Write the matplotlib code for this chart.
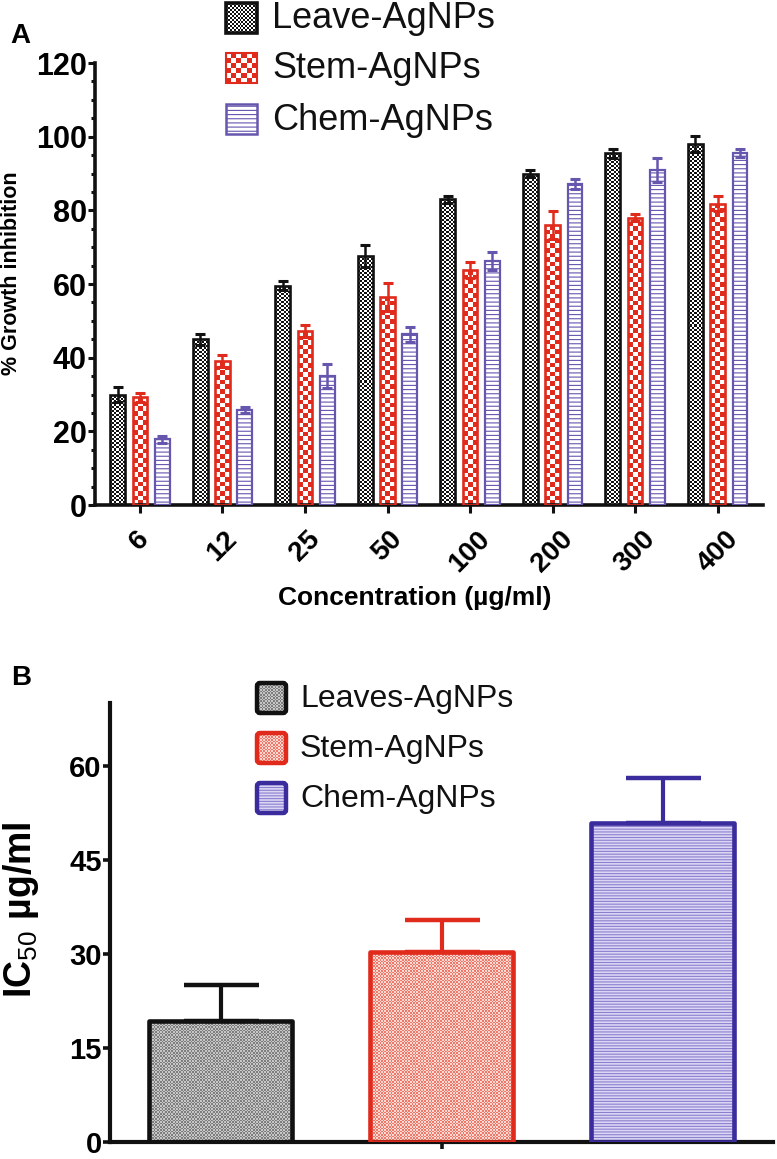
import numpy as np
import matplotlib
matplotlib.use("Agg")
import matplotlib.pyplot as plt
from matplotlib.patches import Rectangle, FancyBboxPatch
from matplotlib.colors import to_rgb

plt.rcParams['font.family'] = ['Liberation Sans', 'DejaVu Sans']
plt.rcParams['mathtext.fontset'] = 'custom'
plt.rcParams['mathtext.rm'] = 'Liberation Sans'
plt.rcParams['mathtext.bf'] = 'Liberation Sans:bold'
plt.rcParams['hatch.linewidth'] = 0.8

# ---------------- data ----------------
concentrations = ['6', '12', '25', '50', '100', '200', '300', '400']
series_a = ['Leave-AgNPs', 'Stem-AgNPs', 'Chem-AgNPs']
leave_vals = [30.0, 45.0, 59.5, 67.5, 83.0, 90.0, 95.5, 98.0]
leave_err = [2.0, 1.5, 1.2, 3.0, 1.0, 1.0, 1.2, 2.2]
stem_vals = [29.2, 39.0, 47.2, 56.5, 63.8, 76.0, 78.0, 81.8]
stem_err = [1.2, 1.6, 1.6, 3.7, 2.2, 3.8, 1.0, 2.0]
chem_vals = [17.8, 25.8, 35.0, 46.3, 66.3, 87.2, 91.0, 95.5]
chem_err = [0.9, 0.8, 3.2, 2.0, 2.5, 1.4, 3.2, 1.1]

series_b = ['Leaves-AgNPs', 'Stem-AgNPs', 'Chem-AgNPs']
ic50_vals = [19.3, 30.3, 50.9]
ic50_err = [5.7, 5.1, 7.2]

# ---------------- styles ----------------
BLACK = '#111111'
RED = '#e02a1c'
PURPLE_A = '#6656ae'
INDIGO_B = '#3a2c9c'

W, H = 777, 1159
fig = plt.figure(figsize=(W / 100, H / 100), dpi=100)


def checker(ax, x0, x1, y0, y1, c1, c2, cell_px, clip, z):
    p0 = ax.transData.transform((x0, y0))
    p1 = ax.transData.transform((x1, y1))
    wpx = abs(p1[0] - p0[0])
    hpx = abs(p1[1] - p0[1])
    nc = max(1, int(round(wpx / cell_px)))
    nr = max(1, int(round(hpx / cell_px)))
    ii, jj = np.indices((nr, nc))
    g = ((ii + jj) % 2).astype(bool)
    img = np.where(g[..., None], np.array(to_rgb(c1)), np.array(to_rgb(c2)))
    im = ax.imshow(img, extent=(x0, x1, y0, y1), aspect='auto',
                   interpolation='nearest', zorder=z)
    im.set_clip_path(clip)
    return im


# ================= Panel A =================
axA = fig.add_axes([95 / W, 1 - 505 / H, (763 - 95) / W, (505 - 63) / H])
axA.set_xlim(-0.545, 7.55)
axA.set_ylim(0, 120)
axA.set_autoscale_on(False)
for s in ['top', 'right']:
    axA.spines[s].set_visible(False)
for s in ['left', 'bottom']:
    axA.spines[s].set_linewidth(2.6)
    axA.spines[s].set_color(BLACK)

x = np.arange(len(concentrations))
off = 0.27
bw = 0.178

# Leave: black/white fine checker
fill = axA.bar(x - off, leave_vals, bw, color='white', lw=0, zorder=2)
for p in fill:
    checker(axA, p.get_x(), p.get_x() + p.get_width(), 0, p.get_height(),
            BLACK, 'white', 2.0, p, 2.5)
axA.bar(x - off, leave_vals, bw, facecolor='none', edgecolor=BLACK, lw=1.9, zorder=3)
axA.errorbar(x - off, leave_vals, yerr=leave_err, fmt='none', ecolor=BLACK,
             elinewidth=1.8, capsize=3.6, capthick=2.2, zorder=4)

# Stem: red/white checker
fill = axA.bar(x, stem_vals, bw, color='white', lw=0, zorder=2)
for p in fill:
    checker(axA, p.get_x(), p.get_x() + p.get_width(), 0, p.get_height(),
            RED, 'white', 4.6, p, 2.5)
axA.bar(x, stem_vals, bw, facecolor='none', edgecolor=RED, lw=1.9, zorder=3)
axA.errorbar(x, stem_vals, yerr=stem_err, fmt='none', ecolor=RED,
             elinewidth=1.8, capsize=3.6, capthick=2.2, zorder=4)

# Chem: white with horizontal purple lines
axA.bar(x + off, chem_vals, bw, facecolor='white', edgecolor=PURPLE_A, lw=1.6,
        hatch='----', zorder=3)
axA.errorbar(x + off, chem_vals, yerr=chem_err, fmt='none', ecolor=PURPLE_A,
             elinewidth=1.8, capsize=3.6, capthick=2.2, zorder=4)

axA.set_yticks(np.arange(0, 121, 20))
axA.set_yticks(np.arange(0, 121, 5), minor=True)
axA.tick_params(axis='y', which='major', length=5, width=2.2, pad=1,
                labelsize=22, color=BLACK)
axA.tick_params(axis='y', which='minor', length=3, width=2.2, color=BLACK)
for t in axA.get_yticklabels():
    t.set_fontweight('bold')
axA.set_xticks(x)
axA.set_xticklabels(concentrations, rotation=45, ha='center', va='top',
                    fontsize=20, fontweight='bold')
axA.tick_params(axis='x', length=6, width=2.2, pad=9, color=BLACK)

axA.set_ylabel('% Growth inhibition', fontsize=15.5, fontweight='bold', va='center')
axA.yaxis.set_label_coords((12 - 95) / (763 - 95), (505 - 273) / (505 - 63))
axA.set_xlabel('Concentration (µg/ml)', fontsize=19, fontweight='bold', va='center')
axA.xaxis.set_label_coords((415 - 95) / (763 - 95), (505 - 598) / (505 - 63))

# ================= Panel B =================
B_BOT = 1142
axB = fig.add_axes([110 / W, 1 - B_BOT / H, (773 - 110) / W, (B_BOT - 703) / H])
axB.set_xlim(-0.5, 2.5)
axB.set_ylim(0, 70)
axB.set_autoscale_on(False)
for s in ['top', 'right']:
    axB.spines[s].set_visible(False)
for s in ['left', 'bottom']:
    axB.spines[s].set_linewidth(3.0)
    axB.spines[s].set_color(BLACK)

xb = np.arange(len(series_b))
bwb = 0.65
fills_b = axB.bar(xb, ic50_vals, bwb, color='white', lw=0, zorder=2)
checker(axB, fills_b[0].get_x(), fills_b[0].get_x() + bwb, 0, ic50_vals[0],
        '#7e7e7e', '#c6c6c6', 1.6, fills_b[0], 2.5)
checker(axB, fills_b[1].get_x(), fills_b[1].get_x() + bwb, 0, ic50_vals[1],
        '#ec7a6c', '#fcd8d0', 1.6, fills_b[1], 2.5)
axB.bar(xb[2], ic50_vals[2], bwb, facecolor='#dcd6f4', edgecolor='#8a80d0',
        lw=0, hatch='------', zorder=2.5)
edge_b = [BLACK, RED, INDIGO_B]
axB.bar(xb, ic50_vals, bwb, facecolor='none', edgecolor=edge_b, lw=3.3,
        joinstyle='round', zorder=3)
for i in range(len(xb)):
    axB.errorbar(xb[i], ic50_vals[i], yerr=[[0], [ic50_err[i]]], fmt='none',
                 ecolor=edge_b[i], elinewidth=3.0, capsize=27, capthick=3.2,
                 zorder=2.8)

axB.set_yticks([0, 15, 30, 45, 60])
axB.tick_params(axis='y', length=5, width=2.6, pad=1, labelsize=21, color=BLACK)
for t in axB.get_yticklabels():
    t.set_fontweight('bold')
axB.set_xticks([1])
axB.set_xticklabels([''])
axB.tick_params(axis='x', length=5, width=2.6, color=BLACK)
axB.set_ylabel(r'IC$_{\mathrm{50}}$ µg/ml', fontsize=27, fontweight='bold', va='center')
axB.yaxis.set_label_coords((21 - 110) / (773 - 110), (B_BOT - 910) / (B_BOT - 703))

# ================= legends & panel letters (pixel overlay) =================
lax = fig.add_axes([0, 0, 1, 1], zorder=10)
lax.set_xlim(0, W)
lax.set_ylim(H, 0)
lax.set_autoscale_on(False)
lax.axis('off')
lax.patch.set_visible(False)

# Legend A
legA_rows = [(3, 33), (53, 83), (104, 134)]
for k, (lab, (y0, y1)) in enumerate(zip(series_a, legA_rows)):
    x0, x1 = 226, 257
    if k == 0:
        r = Rectangle((x0, y0), x1 - x0, y1 - y0, facecolor='white', lw=0)
        lax.add_patch(r)
        checker(lax, x0, x1, y1, y0, BLACK, 'white', 2.0, r, 11)
        lax.add_patch(Rectangle((x0, y0), x1 - x0, y1 - y0, facecolor='none',
                                edgecolor=BLACK, lw=2.6, zorder=12))
    elif k == 1:
        r = Rectangle((x0, y0), x1 - x0, y1 - y0, facecolor='white', lw=0)
        lax.add_patch(r)
        checker(lax, x0, x1, y1, y0, RED, 'white', 5.0, r, 11)
        lax.add_patch(Rectangle((x0, y0), x1 - x0, y1 - y0, facecolor='none',
                                edgecolor=RED, lw=1.5, zorder=12))
    else:
        lax.add_patch(Rectangle((x0, y0), x1 - x0, y1 - y0, facecolor='white',
                                edgecolor=PURPLE_A, lw=1.8, hatch='----', zorder=12))
    lax.text(272, (y0 + y1) / 2 + 1, lab, fontsize=26, va='center', ha='left',
             color=BLACK)

# Legend B
legB_rows = [(683, 713), (733, 763), (783, 813)]
legB_face = [('#7e7e7e', '#c6c6c6'), ('#ec7a6c', '#fcd8d0'), None]
for k, (lab, (y0, y1)) in enumerate(zip(series_b, legB_rows)):
    x0, x1 = 257, 286
    r = FancyBboxPatch((x0, y0), x1 - x0, y1 - y0,
                       boxstyle='round,pad=0,rounding_size=3',
                       facecolor='white', lw=0, zorder=10.5)
    lax.add_patch(r)
    if legB_face[k] is not None:
        checker(lax, x0, x1, y1, y0, legB_face[k][0], legB_face[k][1], 1.6, r, 11)
    else:
        lax.add_patch(FancyBboxPatch((x0, y0), x1 - x0, y1 - y0,
                                     boxstyle='round,pad=0,rounding_size=3',
                                     facecolor='#dcd6f4', edgecolor='#8a80d0',
                                     lw=0, hatch='------', zorder=11))
    lax.add_patch(FancyBboxPatch((x0, y0), x1 - x0, y1 - y0,
                                 boxstyle='round,pad=0,rounding_size=3',
                                 facecolor='none', edgecolor=edge_b[k], lw=3.2,
                                 zorder=12))
    lax.text(300, (y0 + y1) / 2 + 1, lab, fontsize=23, va='center', ha='left',
             color=BLACK)

lax.text(20, 36, 'A', fontsize=20, fontweight='bold', ha='center', va='center')
lax.text(21, 678, 'B', fontsize=20, fontweight='bold', ha='center', va='center')

fig.savefig('out.png', dpi=100)
